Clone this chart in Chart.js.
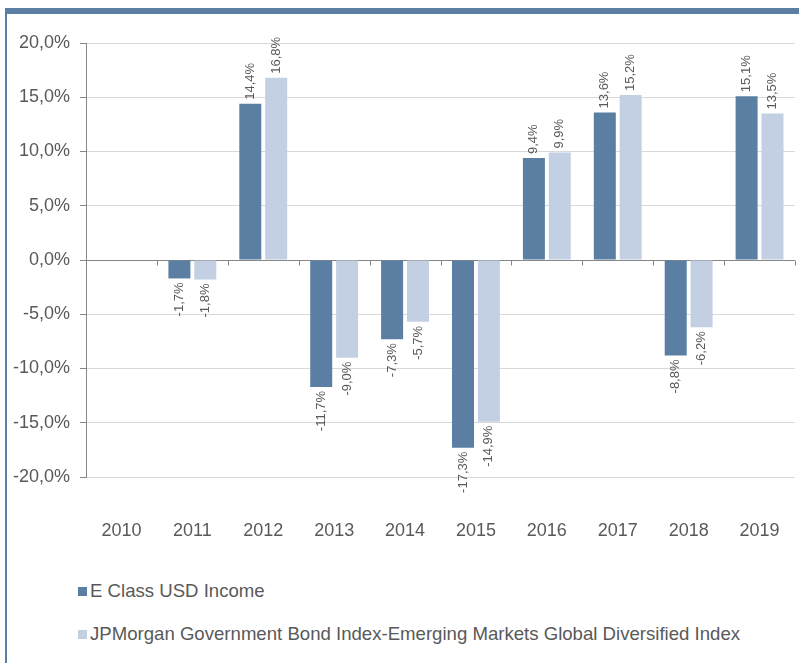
<!DOCTYPE html>
<html>
<head>
<meta charset="utf-8">
<script src="https://cdn.jsdelivr.net/npm/chart.js@4/dist/chart.umd.min.js"></script>
<style>
  body { margin: 0; background: #fff; font-family: "Liberation Sans", Arial, sans-serif; }
  #wrap { position: relative; width: 799px; height: 663px; overflow: hidden; }
  #frame-top { position: absolute; left: 5px; top: 8px; width: 794px; height: 6px; background: #5b7fa3; }
  #frame-left { position: absolute; left: 5px; top: 8px; width: 2px; height: 655px; background: #5b7fa3; }
  #chart-box { position: absolute; left: 0; top: 0; width: 799px; height: 560px; }
  .legend-item { position: absolute; left: 78px; font-size: 18.6px; color: #595959; line-height: 20px; white-space: nowrap; }
  .legend-item span { display: inline-block; width: 9px; height: 9px; margin-right: 3px; vertical-align: 1px; }
</style>
</head>
<body>
<div id="wrap">
  <div id="chart-box"><canvas id="chart-retorno" width="799" height="560"></canvas></div>
  <div id="frame-top"></div>
  <div id="frame-left"></div>
  <div class="legend-item" id="leg-0" style="top:581px"></div>
  <div class="legend-item" id="leg-1" style="top:624px"></div>
</div>
<script>
const anos = ['2010', '2011', '2012', '2013', '2014', '2015', '2016', '2017', '2018', '2019'];
const fundo = [null, -1.7, 14.4, -11.7, -7.3, -17.3, 9.4, 13.6, -8.8, 15.1];
const indice = [null, -1.8, 16.8, -9.0, -5.7, -14.9, 9.9, 15.2, -6.2, 13.5];
const nomesSeries = ['E Class USD Income', 'JPMorgan Government Bond Index-Emerging Markets Global Diversified Index'];
const coresSeries = ['#5b7fa3', '#c3d0e3'];
const ticksY = [-20, -15, -10, -5, 0, 5, 10, 15, 20];

const fmt = v => v.toFixed(1).replace('.', ',') + '%';

// rotated value labels above / below each bar
const rotuloBarras = {
    id: 'rotuloBarras',
    afterDatasetsDraw(chart) {
        const ctx = chart.ctx;
        ctx.save();
        ctx.font = '13px "Liberation Sans", Arial, sans-serif';
        ctx.fillStyle = '#595959';
        ctx.textBaseline = 'middle';
        chart.data.datasets.forEach((ds, i) => {
            chart.getDatasetMeta(i).data.forEach((bar, j) => {
                const v = ds.data[j];
                if (v === null) return;
                ctx.save();
                if (v >= 0) {
                    ctx.translate(bar.x, bar.y - 4);
                    ctx.rotate(-Math.PI / 2);
                    ctx.textAlign = 'left';
                } else {
                    ctx.translate(bar.x, bar.y + 4);
                    ctx.rotate(-Math.PI / 2);
                    ctx.textAlign = 'right';
                }
                ctx.fillText(fmt(v), 0, 0);
                ctx.restore();
            });
        });
        ctx.restore();
    }
};

// small tick marks on the zero line between categories
const ticksZero = {
    id: 'ticksZero',
    afterDatasetsDraw(chart) {
        const ctx = chart.ctx;
        const x = chart.scales.x;
        const y0 = Math.round(chart.scales.y.getPixelForValue(0)) + 0.5;
        ctx.save();
        ctx.strokeStyle = '#868686';
        ctx.lineWidth = 1;
        ctx.beginPath();
        for (let i = 0; i <= anos.length; i++) {
            const px = Math.round(x.getPixelForValue(i - 0.5)) + 0.5;
            ctx.moveTo(px, y0);
            ctx.lineTo(px, y0 + 5);
        }
        ctx.stroke();
        ctx.restore();
    }
};

const renderChart = () => {
    const ctx = document.getElementById('chart-retorno').getContext('2d');
    new Chart(ctx, {
        type: 'bar',
        data: {
            labels: anos,
            datasets: [{
                label: nomesSeries[0],
                data: fundo,
                backgroundColor: coresSeries[0]
            }, {
                label: nomesSeries[1],
                data: indice,
                backgroundColor: coresSeries[1]
            }]
        },
        options: {
            responsive: false,
            animation: false,
            categoryPercentage: 0.73,
            barPercentage: 0.85,
            layout: { padding: { top: 43, right: 4, left: 0, bottom: 0 } },
            plugins: {
                legend: { display: false },
                tooltip: { enabled: false }
            },
            scales: {
                x: {
                    grid: {
                        display: true,
                        drawOnChartArea: false,
                        color: 'rgba(0,0,0,0)',
                        tickLength: 40
                    },
                    border: { display: false },
                    ticks: {
                        color: '#595959',
                        padding: 3,
                        font: { size: 18, family: '"Liberation Sans", Arial, sans-serif' }
                    },
                    afterFit: scale => { scale.height = 83; }
                },
                y: {
                    min: -20,
                    max: 20,
                    afterBuildTicks: scale => { scale.ticks = ticksY.map(v => ({ value: v })); },
                    grid: {
                        color: c => c.tick && c.tick.value === 0 ? '#868686' : '#d9d9d9',
                        tickColor: '#868686',
                        tickLength: 6
                    },
                    border: { display: true, color: '#868686' },
                    ticks: {
                        color: '#595959',
                        padding: 10,
                        font: { size: 18, family: '"Liberation Sans", Arial, sans-serif' },
                        callback: v => fmt(v)
                    },
                    afterFit: scale => { scale.width = 86; }
                }
            }
        },
        plugins: [rotuloBarras, ticksZero]
    });
};

const renderLegenda = () => {
    nomesSeries.forEach((nome, i) => {
        const el = document.getElementById('leg-' + i);
        el.innerHTML = `<span style="background:${coresSeries[i]}"></span>${nome}`;
    });
};

renderChart();
renderLegenda();
</script>
</body>
</html>
